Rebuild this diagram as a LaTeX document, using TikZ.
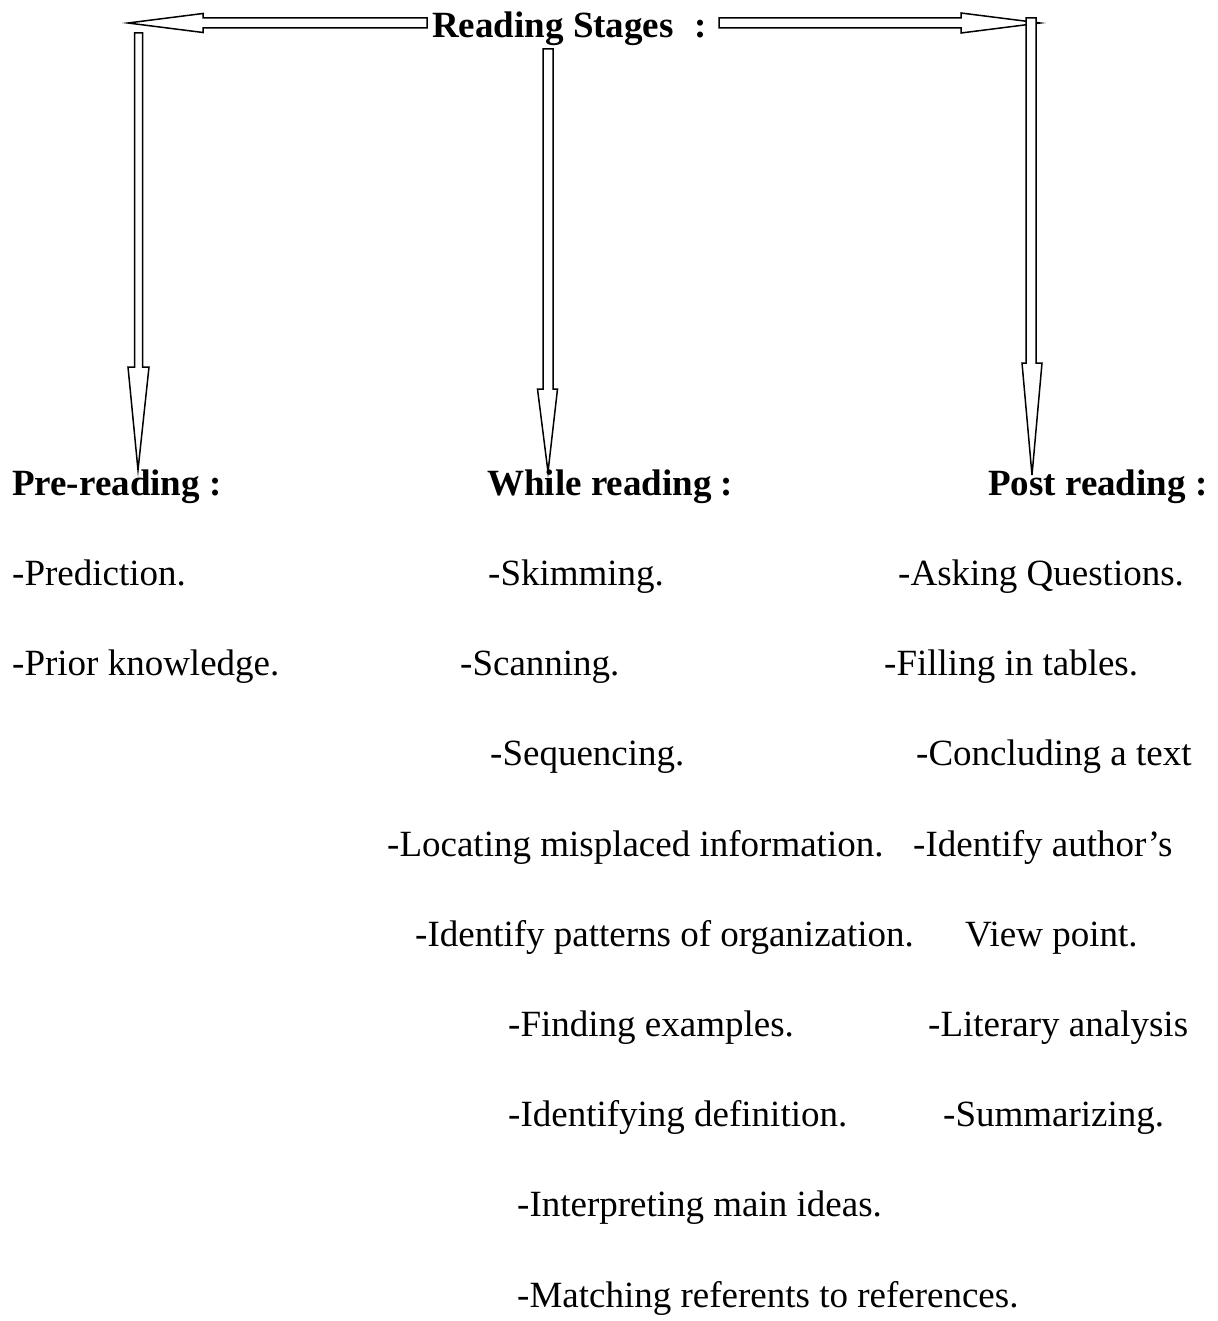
\documentclass[tikz,border=0pt]{standalone}
\usepackage{fontspec}
\setmainfont{Liberation Serif}
\begin{document}
\begin{tikzpicture}[x=1pt,y=-1pt,
  txt/.style={anchor=base west,inner sep=0pt,font=\fontsize{37}{40}\selectfont},
  hd/.style={txt,font=\fontsize{37}{40}\selectfont\bfseries},
  blockarrow/.style={draw=black,fill=white,line width=1.5pt,line join=miter}]
\useasboundingbox (0,0) rectangle (1217,1321);
% horizontal arrows
\draw[blockarrow] (427,18) -- (203,18) -- (203,13.5) -- (128,23) -- (203,32.5) -- (203,28) -- (427,28) -- cycle;
\draw[blockarrow] (719,18) -- (961,18) -- (961,13) -- (1040,23) -- (961,33) -- (961,28) -- (719,28) -- cycle;
% vertical arrows
\draw[blockarrow] (134.5,33) -- (142.5,33) -- (142.5,367) -- (149,367) -- (138,470) -- (128,367) -- (134.5,367) -- cycle;
\draw[blockarrow] (543,49) -- (553,49) -- (553,389) -- (557.5,389) -- (548,472) -- (537.5,389) -- (543,389) -- cycle;
\draw[blockarrow] (1026,18) -- (1036,18) -- (1036,363) -- (1042,363) -- (1032,475) -- (1022,363) -- (1026,363) -- cycle;
% headings
\node[hd] (title) at (432,38) {Reading Stages\hspace{12pt} :};
\node[hd] (pre) at (12,495) {Pre-reading :};
\node[hd] (while) at (487,495) {While reading :};
\node[hd] (post) at (988,495) {Post reading :};
% pre-reading items
\node[txt] (p1) at (12,585) {-Prediction.};
\node[txt] (p2) at (12,675) {-Prior knowledge.};
% while reading items
\node[txt] (w1) at (488,585) {-Skimming.};
\node[txt] (w2) at (460,675) {-Scanning.};
\node[txt] (w3) at (490,765) {-Sequencing.};
\node[txt] (w4) at (387,856) {-Locating misplaced information.};
\node[txt] (w5) at (415,946) {-Identify patterns of organization.};
\node[txt] (w6) at (508,1036) {-Finding examples.};
\node[txt] (w7) at (508,1126) {-Identifying definition.};
\node[txt] (w8) at (517,1216) {-Interpreting main ideas.};
\node[txt] (w9) at (517,1307) {-Matching referents to references.};
% post reading items
\node[txt] (s1) at (898,585) {-Asking Questions.};
\node[txt] (s2) at (884,675) {-Filling in tables.};
\node[txt] (s3) at (916,765) {-Concluding a text};
\node[txt] (s4) at (913,856) {-Identify author’s};
\node[txt] (s5) at (965,946) {View point.};
\node[txt] (s6) at (928,1036) {-Literary analysis};
\node[txt] (s7) at (943,1126) {-Summarizing.};
\end{tikzpicture}
\end{document}
